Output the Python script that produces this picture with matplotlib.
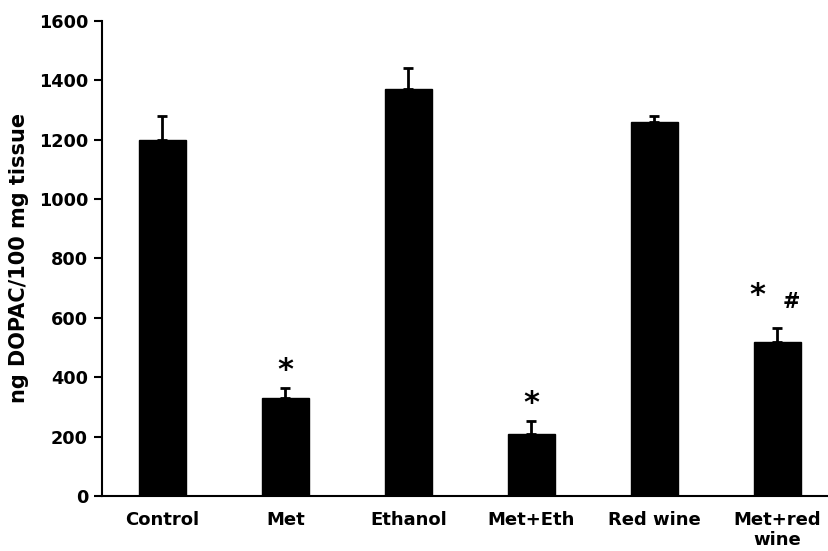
import matplotlib.pyplot as plt
import numpy as np

# Data
groups = ['Control', 'Met', 'Ethanol', 'Met+Eth', 'Red wine', 'Met+red\nwine']
dopac = [1200, 330, 1370, 210, 1260, 520]
sem = [80, 35, 70, 42, 20, 45]
marks = ['', '*', '', '*', '', '*']
hash_marks = ['', '', '', '', '', '#']

plt.rcParams['font.family'] = 'DejaVu Sans'
plt.rcParams['font.weight'] = 'bold'

fig = plt.figure(figsize=(8.29, 5.51), dpi=100)
ax = fig.add_axes([0.123, 0.1, 0.877, 0.862])

x = np.arange(len(groups))
ax.bar(x, dopac, width=0.38, color='black', edgecolor='black')
ax.errorbar(x, dopac, yerr=[np.zeros(len(sem)), sem], fmt='none',
            ecolor='black', elinewidth=2, capsize=3.5, capthick=2)

# significance marks
for i in range(len(groups)):
    top = dopac[i] + sem[i]
    if marks[i] and hash_marks[i]:
        ax.text(i - 0.16, top + 60, marks[i], ha='center', va='bottom',
                fontsize=22, fontweight='bold')
        ax.text(i + 0.11, top + 55, hash_marks[i], ha='center', va='bottom',
                fontsize=15, fontweight='bold')
    elif marks[i]:
        ax.text(i, top + 10, marks[i], ha='center', va='bottom',
                fontsize=22, fontweight='bold')

ax.set_xlim(-0.49, 5.42)
ax.set_ylim(0, 1600)
ax.set_yticks(range(0, 1601, 200))
ax.set_xticks(x)
ax.set_xticklabels(groups, fontsize=13, fontweight='bold', linespacing=1.15)
ax.tick_params(axis='x', length=0, pad=11)
ax.tick_params(axis='y', length=6, width=1.5, labelsize=12.7, direction='out', pad=4)
for lbl in ax.get_yticklabels():
    lbl.set_fontweight('bold')
ax.set_ylabel('ng DOPAC/100 mg tissue', fontsize=15, fontweight='bold')
ax.yaxis.set_label_coords(-0.101, 0.5)

ax.spines['top'].set_visible(False)
ax.spines['right'].set_visible(False)
ax.spines['left'].set_linewidth(1.5)
ax.spines['bottom'].set_linewidth(1.5)

plt.savefig('out.png', dpi=100)
